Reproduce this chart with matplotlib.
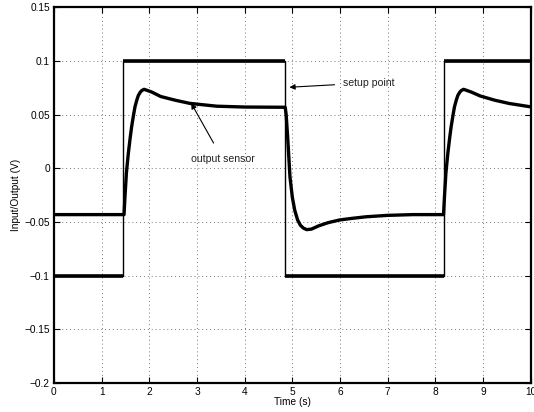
import matplotlib
matplotlib.use("Agg")
import matplotlib.pyplot as plt
import numpy as np

# setpoint (square wave)
sp_t = [0, 1.45, 1.45, 4.85, 4.85, 8.17, 8.17, 10]
sp_v = [-0.1, -0.1, 0.1, 0.1, -0.1, -0.1, 0.1, 0.1]

# sensor output
out_t = [0, 1.47, 1.49, 1.52, 1.56, 1.60, 1.63, 1.67, 1.70, 1.74, 1.77, 1.81, 1.84, 1.89, 1.95, 2.05,
         2.24, 2.55, 2.85, 3.41, 4.0, 4.81,
         4.85, 4.87, 4.90, 4.95, 5.00, 5.05, 5.11, 5.17, 5.23, 5.30, 5.40, 5.55, 5.75, 5.99, 6.25, 6.55, 7.0, 7.53, 8.17,
         8.19, 8.22, 8.26, 8.30, 8.33, 8.37, 8.40, 8.44, 8.47, 8.51, 8.54, 8.59, 8.65, 8.75,
         8.94, 9.25, 9.55, 9.98]
out_v = [-0.043, -0.043, -0.026, -0.004, 0.014, 0.029, 0.039, 0.050, 0.0575, 0.064, 0.068, 0.071, 0.0725, 0.0737, 0.0728, 0.0712,
         0.067, 0.0635, 0.0606, 0.058, 0.0572, 0.057,
         0.057, 0.050, 0.030, -0.008, -0.027, -0.039, -0.048, -0.053, -0.0555, -0.057, -0.0565, -0.0535, -0.0505, -0.048, -0.0465, -0.045, -0.0437, -0.043, -0.043,
         -0.026, -0.004, 0.014, 0.029, 0.039, 0.050, 0.0575, 0.064, 0.068, 0.071, 0.0725, 0.0737, 0.0728, 0.0712,
         0.0675, 0.0635, 0.0605, 0.0575]

plt.rcParams['font.family'] = ['Liberation Sans', 'DejaVu Sans']

fig = plt.figure(figsize=(5.34, 4.12), dpi=100)
ax = fig.add_axes([0.101, 0.070, 0.893, 0.912])

# thin vertical edges, thick horizontal parts of the setpoint
ax.plot(sp_t, sp_v, color='black', lw=1.0)
for i in range(0, len(sp_t), 2):
    ax.plot(sp_t[i:i + 2], sp_v[i:i + 2], color='black', lw=2.6, solid_capstyle='butt')
ax.plot(out_t, out_v, color='black', lw=2.4, solid_joinstyle='round')

ax.set_xlim(0, 10)
ax.set_ylim(-0.2, 0.15)
ax.set_xticks(np.arange(0, 11, 1))
yt = [-0.2, -0.15, -0.1, -0.05, 0, 0.05, 0.1, 0.15]
ax.set_yticks(yt)
ax.set_yticklabels(['\u22120.2', '\u22120.15', '\u22120.1', '\u22120.05', '0', '0.05', '0.1', '0.15'])
ax.tick_params(direction='in', labelsize=7.3, length=4, width=0.8, top=True, right=True, pad=3)
ax.grid(True, linestyle=(0, (1, 3)), color='#777777', lw=0.7)
for s in ax.spines.values():
    s.set_linewidth(1.6)

ax.set_xlabel('Time (s)', fontsize=7.3, labelpad=0)
ax.set_ylabel('Input/Output (V)', fontsize=7.3, labelpad=2)

ax.annotate('setup point', xy=(4.88, 0.0755), xytext=(6.06, 0.0797),
            fontsize=7.6, va='center', ha='left', color='#222222',
            arrowprops=dict(arrowstyle='-|>', color='black', lw=0.8, mutation_scale=8,
                            shrinkA=4))
ax.annotate('output sensor', xy=(2.85, 0.063), xytext=(3.54, 0.0085),
            fontsize=7.6, va='center', ha='center', color='#222222',
            arrowprops=dict(arrowstyle='-|>', color='black', lw=0.8, mutation_scale=8,
                            shrinkA=7))

fig.savefig('out.png', dpi=100)
